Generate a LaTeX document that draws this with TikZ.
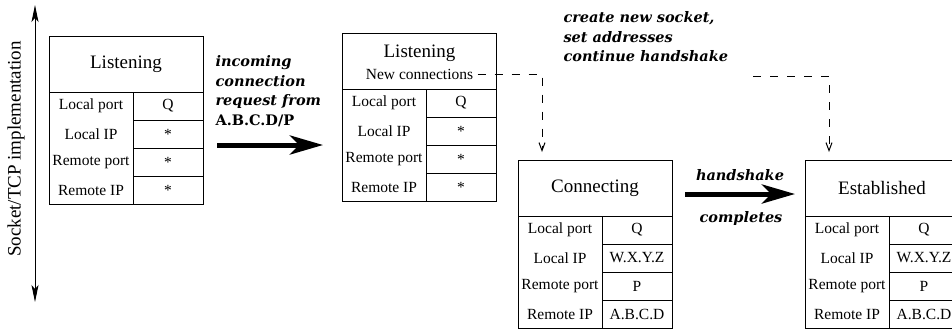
\documentclass[tikz,border=0pt]{standalone}
\usepackage{fontspec}
\setmainfont{Liberation Serif}
\newfontfamily\notefont{DejaVu Serif}
\usetikzlibrary{arrows.meta,positioning}

\tikzset{
  headbox/.style={draw, outer sep=0pt, inner sep=0pt, minimum width=154pt, minimum height=56pt, font=\fontsize{19}{22}\selectfont},
  namecol/.style={draw, outer sep=0pt, inner sep=0pt, minimum width=84pt, minimum height=112pt},
  valcell/.style={draw, outer sep=0pt, inner sep=0pt, minimum width=70pt, minimum height=28pt, font=\fontsize{15.5}{18}\selectfont},
  celltext/.style={inner sep=0pt, font=\fontsize{15.5}{18}\selectfont},
  headtext/.style={inner sep=0pt, font=\fontsize{19}{22}\selectfont},
  note/.style={inner sep=0pt, align=left, font=\notefont\bfseries\itshape\fontsize{14.5}{19.5}\selectfont},
  bigarrow/.style={line width=5pt, -{Stealth[length=33pt,width=19pt,inset=9pt]}},
  dashline/.style={dash pattern=on 8pt off 9pt, -{Straight Barb[length=8pt,width=6pt]}},
  axisarrow/.style={{Stealth[length=17pt,width=7pt,inset=4pt]}-{Stealth[length=17pt,width=7pt,inset=4pt]}}
}

% socket table: name, top left corner, title, four values
\newcommand{\socktab}[7]{%
  \node[headbox, anchor=north west] (#1) at (#2) {#3};
  \node[namecol, anchor=north west] (#1n) at (#1.south west) {};
  \node[valcell, anchor=north west] (#1v1) at (#1n.north east) {#4};
  \node[valcell, below=0pt of #1v1] (#1v2) {#5};
  \node[valcell, below=0pt of #1v2] (#1v3) {#6};
  \node[valcell, below=0pt of #1v3] (#1v4) {#7};
  \foreach \lab [count=\i] in {Local port, Local IP, Remote port, Remote IP}
    \node[celltext] (#1l\i) at (#1n.center |- #1v\i.center) {\lab};
}

\begin{document}
\begin{tikzpicture}[x=1pt, y=-1pt, line width=1pt]
\useasboundingbox (0,0) rectangle (952,330);

%Side axis
\coordinate (axtop) at (35,5);
\coordinate (axbot) at (35,302);
\draw[axisarrow] (axtop) -- (axbot);
\node[headtext, rotate=90] (axlab) at (16,149) {Socket/TCP implementation};

% Sockets
\socktab{lis1}{49,36}{Listening}{Q}{*}{*}{*}
\socktab{lis2}{342,33}{}{Q}{*}{*}{*}
\node[headtext, anchor=base] (lis2t) at (419.5,57.5) {Listening};
\node[celltext, inner xsep=4pt] (newconn) at (419.5,74) {New connections};
\socktab{conn}{518,160}{Connecting}{Q}{W.X.Y.Z}{P}{A.B.C.D}
\socktab{est}{805,160}{Established}{Q}{W.X.Y.Z}{P}{A.B.C.D}

%Transitions
\draw[bigarrow, shorten <=14pt, shorten >=19pt] (lis1.east |- lis2v3.north) -- (lis2.west |- lis2v3.north);
\draw[bigarrow, shorten <=13pt, shorten >=10pt] ([yshift=-6pt]conn.east) -- ([yshift=-6pt]est.west);
\draw[dashline, shorten >=8pt] (newconn.east) -| ([xshift=24pt]conn.north west);
\coordinate (hsstart) at (753,76);
\draw[dashline, shorten >=8pt] (hsstart) -| ([xshift=24pt]est.north west);

%Labels
\node[note, anchor=north west] (inlab) at (215,55) {incoming\\connection\\request from\\{\upshape A.B.C.D/P}};
\node[note, anchor=north west] (newlab) at (563,11) {create new socket,\\set addresses\\continue handshake};
\node[note, anchor=base] (hsk) at (740,180) {handshake};
\node[note, anchor=base] (cmp) at (741,222) {completes};
\end{tikzpicture}
\end{document}
